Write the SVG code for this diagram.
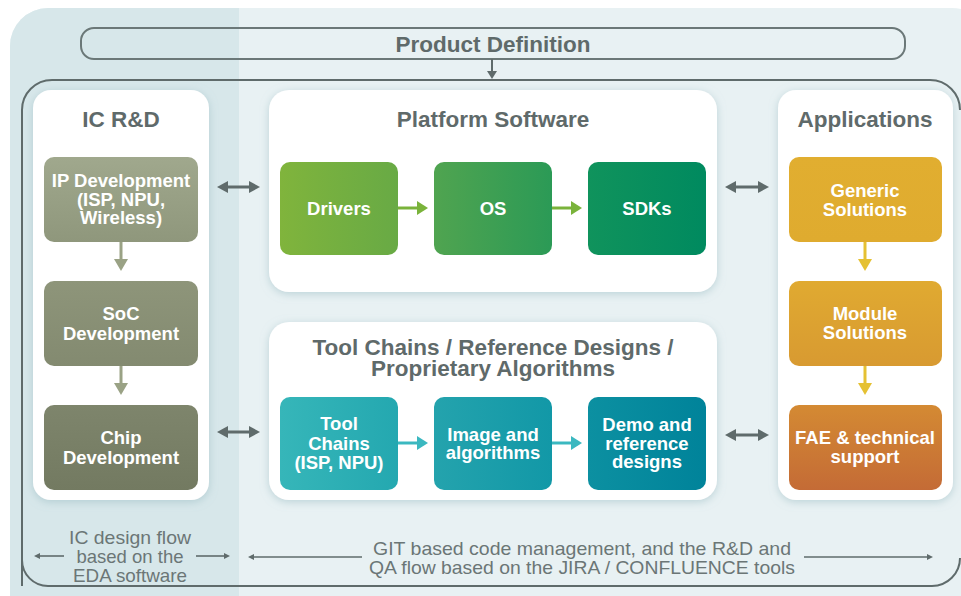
<svg xmlns="http://www.w3.org/2000/svg" width="961" height="596" viewBox="0 0 961 596">
<defs>
<style>
.ttl{font-family:"Liberation Sans",Arial,sans-serif;font-weight:700;fill:#5f6a6a;text-anchor:middle;font-size:22.5px}
.bx{font-family:"Liberation Sans",Arial,sans-serif;font-weight:700;font-size:18.5px;fill:#ffffff;text-anchor:middle;dominant-baseline:central}
.note{font-family:"Liberation Sans",Arial,sans-serif;font-size:18.5px;fill:#6b7676;text-anchor:middle;dominant-baseline:central}
.panel{fill:#ffffff;filter:url(#sh)}
.gray{fill:#5f6b6b}
.gline{stroke:#5f6b6b;stroke-width:3;fill:none}
.thin{stroke:#5f6b6b;stroke-width:1.6;fill:none}
</style>
<filter id="sh" x="-20%" y="-20%" width="140%" height="140%">
<feDropShadow dx="0" dy="2" stdDeviation="4" flood-color="#8fb3bb" flood-opacity="0.5"/>
</filter>
<linearGradient id="gIP" x1="0" y1="0" x2="0" y2="1"><stop offset="0" stop-color="#a0a88d"/><stop offset="1" stop-color="#8f977c"/></linearGradient>
<linearGradient id="gSoC" x1="0" y1="0" x2="0" y2="1"><stop offset="0" stop-color="#8e957a"/><stop offset="1" stop-color="#838a70"/></linearGradient>
<linearGradient id="gChip" x1="0" y1="0" x2="0" y2="1"><stop offset="0" stop-color="#7e856c"/><stop offset="1" stop-color="#737a61"/></linearGradient>
<linearGradient id="gDrv" x1="0" y1="0" x2="1" y2="0"><stop offset="0" stop-color="#80b43c"/><stop offset="1" stop-color="#68aa45"/></linearGradient>
<linearGradient id="gOS" x1="0" y1="0" x2="1" y2="0"><stop offset="0" stop-color="#50a450"/><stop offset="1" stop-color="#2b9a56"/></linearGradient>
<linearGradient id="gSDK" x1="0" y1="0" x2="1" y2="0"><stop offset="0" stop-color="#10935c"/><stop offset="1" stop-color="#008a5f"/></linearGradient>
<linearGradient id="gTool" x1="0" y1="0" x2="1" y2="0"><stop offset="0" stop-color="#36b6b9"/><stop offset="1" stop-color="#24a8b0"/></linearGradient>
<linearGradient id="gImg" x1="0" y1="0" x2="1" y2="0"><stop offset="0" stop-color="#24a3ad"/><stop offset="1" stop-color="#1298a7"/></linearGradient>
<linearGradient id="gDemo" x1="0" y1="0" x2="1" y2="0"><stop offset="0" stop-color="#0c90a1"/><stop offset="1" stop-color="#00839a"/></linearGradient>
<linearGradient id="gGen" x1="0" y1="0" x2="0" y2="1"><stop offset="0" stop-color="#e1ae30"/><stop offset="1" stop-color="#dfab2f"/></linearGradient>
<linearGradient id="gMod" x1="0" y1="0" x2="0" y2="1"><stop offset="0" stop-color="#e0aa31"/><stop offset="1" stop-color="#d89a31"/></linearGradient>
<linearGradient id="gFAE" x1="0" y1="0" x2="0" y2="1"><stop offset="0" stop-color="#d48a33"/><stop offset="1" stop-color="#c46b36"/></linearGradient>
</defs>

<g id="background">
<rect x="10" y="8" width="980" height="620" rx="38" fill="#e8f1f3"/>
<path d="M48 8 H239 V596 H10 V46 A38 38 0 0 1 48 8 Z" fill="#d7e7ea"/>
</g>

<g id="product-definition">
<rect x="81" y="28" width="824" height="31" rx="13" fill="none" stroke="#6b7878" stroke-width="2"/>
<text class="ttl" x="493" y="51.5">Product Definition</text>
</g>

<g id="main-frame">
<path d="M22 586 V110 A30 30 0 0 1 52 80 H930 A30 30 0 0 1 960 110" fill="none" stroke="#5f6b6b" stroke-width="2"/>
<path d="M22 560 A26 26 0 0 0 48 586 H932 A28 28 0 0 0 960 558" fill="none" stroke="#5f6b6b" stroke-width="2"/>
</g>

<g id="ic-rd">
<rect class="panel" x="33" y="90" width="176" height="410" rx="18"/>
<text class="ttl" x="121" y="127">IC R&amp;D</text>
</g>
<g id="ip-dev">
<rect x="44" y="157" width="154" height="85" rx="10" fill="url(#gIP)"/>
<text class="bx" x="121" y="180">IP Development</text>
<text class="bx" x="121" y="199">(ISP, NPU,</text>
<text class="bx" x="121" y="217">Wireless)</text>
</g>
<g id="soc-dev">
<rect x="44" y="281" width="154" height="85" rx="10" fill="url(#gSoC)"/>
<text class="bx" x="121" y="313">SoC</text>
<text class="bx" x="121" y="333">Development</text>
</g>
<g id="chip-dev">
<rect x="44" y="405" width="154" height="85" rx="10" fill="url(#gChip)"/>
<text class="bx" x="121" y="437">Chip</text>
<text class="bx" x="121" y="457">Development</text>
</g>

<g id="platform-software">
<rect class="panel" x="269" y="90" width="448" height="202" rx="20"/>
<text class="ttl" x="493" y="127">Platform Software</text>
</g>
<g id="drivers">
<rect x="280" y="162" width="118" height="93" rx="10" fill="url(#gDrv)"/>
<text class="bx" x="339" y="208">Drivers</text>
</g>
<g id="os">
<rect x="434" y="162" width="118" height="93" rx="10" fill="url(#gOS)"/>
<text class="bx" x="493" y="208">OS</text>
</g>
<g id="sdks">
<rect x="588" y="162" width="118" height="93" rx="10" fill="url(#gSDK)"/>
<text class="bx" x="647" y="208">SDKs</text>
</g>

<g id="tool-chains-panel">
<rect class="panel" x="269" y="322" width="448" height="178" rx="20"/>
<text class="ttl" x="493" y="355">Tool Chains / Reference Designs /</text>
<text class="ttl" x="493" y="376">Proprietary Algorithms</text>
</g>
<g id="tool-chains">
<rect x="280" y="397" width="118" height="93" rx="10" fill="url(#gTool)"/>
<text class="bx" x="339" y="423">Tool</text>
<text class="bx" x="339" y="443">Chains</text>
<text class="bx" x="339" y="462">(ISP, NPU)</text>
</g>
<g id="image-algorithms">
<rect x="434" y="397" width="118" height="93" rx="10" fill="url(#gImg)"/>
<text class="bx" x="493" y="434">Image and</text>
<text class="bx" x="493" y="452">algorithms</text>
</g>
<g id="demo-designs">
<rect x="588" y="397" width="118" height="93" rx="10" fill="url(#gDemo)"/>
<text class="bx" x="647" y="424">Demo and</text>
<text class="bx" x="647" y="443">reference</text>
<text class="bx" x="647" y="461">designs</text>
</g>

<g id="applications">
<rect class="panel" x="778" y="90" width="175" height="410" rx="18"/>
<text class="ttl" x="865" y="127">Applications</text>
</g>
<g id="generic-solutions">
<rect x="789" y="157" width="153" height="85" rx="10" fill="url(#gGen)"/>
<text class="bx" x="865" y="190">Generic</text>
<text class="bx" x="865" y="209">Solutions</text>
</g>
<g id="module-solutions">
<rect x="789" y="281" width="153" height="85" rx="10" fill="url(#gMod)"/>
<text class="bx" x="865" y="313">Module</text>
<text class="bx" x="865" y="332">Solutions</text>
</g>
<g id="fae-support">
<rect x="789" y="405" width="153" height="85" rx="10" fill="url(#gFAE)"/>
<text class="bx" x="865" y="437">FAE &amp; technical</text>
<text class="bx" x="865" y="456">support</text>
</g>

<g id="notes">
<text class="note" x="130" y="537" textLength="122" lengthAdjust="spacingAndGlyphs">IC design flow</text>
<text class="note" x="130" y="556" textLength="107" lengthAdjust="spacingAndGlyphs">based on the</text>
<text class="note" x="130" y="575" textLength="114" lengthAdjust="spacingAndGlyphs">EDA software</text>
<text class="note" x="582" y="548" textLength="418" lengthAdjust="spacingAndGlyphs">GIT based code management, and the R&amp;D and</text>
<text class="note" x="582" y="567" textLength="426" lengthAdjust="spacingAndGlyphs">QA flow based on the JIRA / CONFLUENCE tools</text>
</g>

<g id="connectors">
<line x1="492" y1="59" x2="492" y2="72" stroke="#5f6b6b" stroke-width="2"/>
<polygon class="gray" points="487,71 497,71 492,79"/>
<line x1="121" y1="242" x2="121" y2="260" stroke="#9aa285" stroke-width="3"/>
<polygon points="114,259 128,259 121,271" fill="#9aa285"/>
<line x1="121" y1="366" x2="121" y2="384" stroke="#9aa285" stroke-width="3"/>
<polygon points="114,383 128,383 121,395" fill="#9aa285"/>
<line x1="398" y1="208" x2="418" y2="208" stroke="#7ab33b" stroke-width="3"/>
<polygon points="417,201 417,215 428,208" fill="#7ab33b"/>
<line x1="552" y1="208" x2="572" y2="208" stroke="#7ab33b" stroke-width="3"/>
<polygon points="571,201 571,215 582,208" fill="#7ab33b"/>
<line x1="398" y1="443" x2="418" y2="443" stroke="#3bb8c0" stroke-width="3"/>
<polygon points="417,436 417,450 428,443" fill="#3bb8c0"/>
<line x1="552" y1="443" x2="572" y2="443" stroke="#3bb8c0" stroke-width="3"/>
<polygon points="571,436 571,450 582,443" fill="#3bb8c0"/>
<line x1="865" y1="242" x2="865" y2="260" stroke="#e5c133" stroke-width="3"/>
<polygon points="858,259 872,259 865,271" fill="#e5c133"/>
<line x1="865" y1="366" x2="865" y2="384" stroke="#e5c133" stroke-width="3"/>
<polygon points="858,383 872,383 865,395" fill="#e5c133"/>
<line class="gline" x1="226" y1="187" x2="251" y2="187"/>
<polygon class="gray" points="217,187 228,181 228,193"/>
<polygon class="gray" points="260,187 249,181 249,193"/>
<line class="gline" x1="226" y1="432" x2="251" y2="432"/>
<polygon class="gray" points="217,432 228,426 228,438"/>
<polygon class="gray" points="260,432 249,426 249,438"/>
<line class="gline" x1="734" y1="187" x2="760" y2="187"/>
<polygon class="gray" points="725,187 736,181 736,193"/>
<polygon class="gray" points="769,187 758,181 758,193"/>
<line class="gline" x1="734" y1="435" x2="760" y2="435"/>
<polygon class="gray" points="725,435 736,429 736,441"/>
<polygon class="gray" points="769,435 758,429 758,441"/>
<line class="thin" x1="38" y1="556" x2="64" y2="556"/>
<polygon class="gray" points="34,556 40,553 40,559"/>
<line class="thin" x1="196" y1="556" x2="226" y2="556"/>
<polygon class="gray" points="230,556 224,553 224,559"/>
<line class="thin" x1="252" y1="557" x2="362" y2="557"/>
<polygon class="gray" points="248,557 254,554 254,560"/>
<line class="thin" x1="804" y1="557" x2="928" y2="557"/>
<polygon class="gray" points="933,557 927,554 927,560"/>
</g>
</svg>
